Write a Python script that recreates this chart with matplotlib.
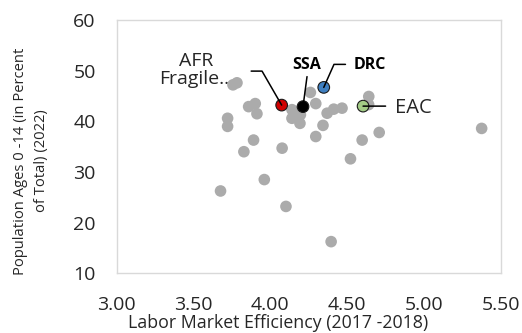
import matplotlib
matplotlib.use("Agg")
import matplotlib.pyplot as plt

# Country-level observations: labor market efficiency vs. share of population aged 0-14
gray_x = [3.757, 3.783, 4.261, 4.641, 4.640, 4.296, 3.859, 3.902, 3.913, 3.722,
          3.722, 4.141, 4.141, 4.174, 4.196, 4.193, 4.370, 4.413, 4.467, 4.343,
          4.296, 4.709, 4.598, 5.376, 3.891, 3.828, 4.077, 4.522, 3.961, 3.676,
          4.102, 4.396]
gray_y = [47.2, 47.6, 45.7, 44.9, 43.3, 43.5, 42.9, 43.5, 41.5, 40.6,
          39.0, 42.3, 40.6, 40.9, 41.3, 39.6, 41.6, 42.4, 42.6, 39.2,
          37.0, 37.8, 36.3, 38.6, 36.3, 34.0, 34.7, 32.6, 28.5, 26.25,
          23.2, 16.25]

# Highlighted groups
hl_names = ["AFR\nFragile...", "SSA", "DRC", "EAC"]
hl_x = [4.074, 4.213, 4.348, 4.604]
hl_y = [43.2, 42.9, 46.7, 43.0]
hl_colors = ["#d00000", "#000000", "#3f7fc0", "#a3cc86"]

x_ticks = [3.00, 3.50, 4.00, 4.50, 5.00, 5.50]
y_ticks = [10, 20, 30, 40, 50, 60]

FONT = "Open Sans"
TXT = "#262626"
plt.rcParams["font.family"] = [FONT, "DejaVu Sans"]

fig = plt.figure(figsize=(5.22, 3.33), dpi=100)
W, H = 522, 333
ax = fig.add_axes([116.7 / W, 1 - 273.3 / H, (500.7 - 116.7) / W, (273.3 - 20) / H])

ax.scatter(gray_x, gray_y, s=70, color="#ababab", edgecolors="none", zorder=3)
ax.scatter(hl_x, hl_y, s=70, color=hl_colors, edgecolors="#1a1a1a",
           linewidths=0.8, zorder=5)

ax.set_xlim(3.0, 5.5)
ax.set_ylim(10, 60)
ax.set_xticks(x_ticks)
ax.set_xticklabels([f"{v:.2f}" for v in x_ticks])
ax.set_yticks(y_ticks)
ax.tick_params(length=0, labelsize=14, colors=TXT)
ax.tick_params(axis="x", pad=16)
ax.tick_params(axis="y", pad=15)
for s in ax.spines.values():
    s.set_color("#d9d9d9")
    s.set_linewidth(1.0)

line_kw = dict(arrowstyle="-", color="black", lw=1.1, shrinkA=0, shrinkB=0)

# AFR Fragile
ax.annotate("", xy=(hl_x[0], hl_y[0]), xytext=(-30.5, 34), textcoords="offset pixels",
            arrowprops=dict(connectionstyle="angle,angleA=0,angleB=120,rad=0", **line_kw),
            zorder=6)
ax.annotate(hl_names[0], xy=(hl_x[0], hl_y[0]), xytext=(-85, 35),
            textcoords="offset pixels", ha="center", va="center",
            fontsize=14, color=TXT, linespacing=1.0, zorder=2)

# SSA
ax.annotate("", xy=(hl_x[1], hl_y[1]), xytext=(4, 30), textcoords="offset pixels",
            arrowprops=dict(connectionstyle="arc3,rad=0", **line_kw), zorder=6)
ax.annotate(hl_names[1], xy=(hl_x[1], hl_y[1]), xytext=(3.5, 42),
            textcoords="offset pixels", ha="center", va="center",
            fontsize=11.5, fontweight="bold", color="black", zorder=6)

# DRC
ax.annotate("", xy=(hl_x[2], hl_y[2]), xytext=(21.7, 23), textcoords="offset pixels",
            arrowprops=dict(connectionstyle="angle,angleA=0,angleB=66,rad=0", **line_kw),
            zorder=6)
ax.annotate(hl_names[2], xy=(hl_x[2], hl_y[2]), xytext=(30, 22.5),
            textcoords="offset pixels", ha="left", va="center",
            fontsize=11.5, fontweight="bold", color="black", zorder=6)

# EAC
ax.annotate("", xy=(hl_x[3], hl_y[3]), xytext=(22.5, 0), textcoords="offset pixels",
            arrowprops=dict(connectionstyle="arc3,rad=0", **line_kw), zorder=6)
ax.annotate(hl_names[3], xy=(hl_x[3], hl_y[3]), xytext=(32, -2),
            textcoords="offset pixels", ha="left", va="center",
            fontsize=14.5, color=TXT, zorder=6)

fig.text(278.5 / W, 1 - 322.5 / H, "Labor Market Efficiency (2017 -2018)",
         ha="center", va="center", fontsize=12.8, color=TXT)
fig.text(31 / W, 1 - 161 / H, "Population Ages 0 -14 (in Percent\nof Total) (2022)",
         ha="center", va="center", rotation=90, multialignment="center",
         fontsize=10.6, color=TXT, linespacing=1.55)

fig.savefig("out.png", dpi=100)
